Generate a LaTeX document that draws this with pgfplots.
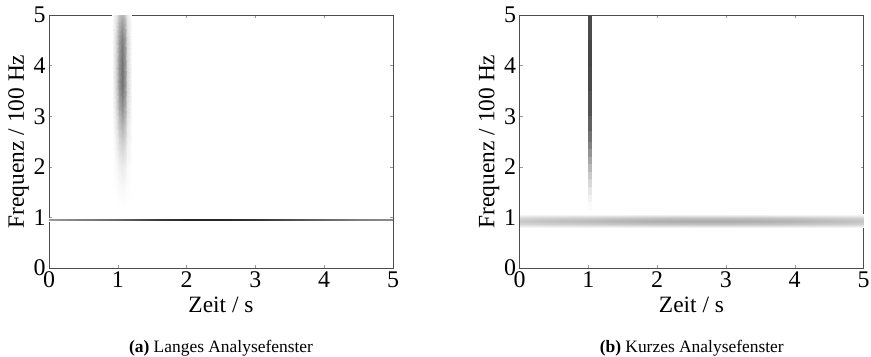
\documentclass[border=0pt]{standalone}
\usepackage{fontspec}
\setmainfont{Liberation Serif}
\usepackage{pgfplots}
\pgfplotsset{compat=1.18}
\pgfplotsset{
  spec/.style={
    scale only axis, width=344bp, height=253bp, anchor=south west,
    xmin=0, xmax=5, ymin=0, ymax=5,
    xtick={0,1,2,3,4,5}, ytick={0,1,2,3,4,5},
    tick align=inside, major tick length=3bp,
    tick style={black!40, line width=0.4pt},
    axis line style={black!70, line width=0.6pt},
    /pgf/number format/assume math mode=true,
    ticklabel style={font=\fontsize{24}{24}\selectfont},
    label style={font=\fontsize{23.5}{24}\selectfont},
    xlabel={Zeit / s}, ylabel={Frequenz / 100 Hz},
    xlabel style={at={(axis description cs:0.5,0)}, anchor=base, yshift=-44bp},
    ylabel style={at={(axis description cs:-0.073,0.5)}, anchor=base},
    colormap={bw}{gray(0cm)=(1); gray(1cm)=(0)},
    point meta min=0, point meta max=1,
  },
}
\begin{document}
\begin{tikzpicture}
\path[use as bounding box] (0,0) rectangle (871bp,357bp);
% ---------------- (a) ----------------
\begin{axis}[spec, at={(49bp,89bp)}]
\addplot[surf, shader=interp, point meta=explicit, mesh/cols=11] table[x=x,y=y,meta=c] {
x y c
0 0.925 0
0.5 0.925 0
1 0.925 0
1.5 0.925 0
2 0.925 0
2.5 0.925 0
3 0.925 0
3.5 0.925 0
4 0.925 0
4.5 0.925 0
5 0.925 0

0 0.945 0.4
0.5 0.945 0.5
1 0.945 0.6
1.5 0.945 0.75
2 0.945 0.85
2.5 0.945 0.85
3 0.945 0.8
3.5 0.945 0.7
4 0.945 0.6
4.5 0.945 0.5
5 0.945 0.45

0 0.975 0.4
0.5 0.975 0.5
1 0.975 0.6
1.5 0.975 0.75
2 0.975 0.85
2.5 0.975 0.85
3 0.975 0.8
3.5 0.975 0.7
4 0.975 0.6
4.5 0.975 0.5
5 0.975 0.45

0 0.995 0
0.5 0.995 0
1 0.995 0
1.5 0.995 0
2 0.995 0
2.5 0.995 0
3 0.995 0
3.5 0.995 0
4 0.995 0
4.5 0.995 0
5 0.995 0
};
\addplot[surf, shader=interp, point meta=explicit, mesh/cols=7] table[x=x,y=y,meta=c] {
x y c
0.92 1.2 0
0.98 1.2 0
1.02 1.2 0
1.06 1.2 0
1.10 1.2 0
1.14 1.2 0
1.20 1.2 0

0.92 1.6 0
0.98 1.6 0.009
1.02 1.6 0.0225
1.06 1.6 0.03
1.10 1.6 0.0225
1.14 1.6 0.009
1.20 1.6 0

0.92 2.0 0
0.98 2.0 0.024
1.02 2.0 0.06
1.06 2.0 0.08
1.10 2.0 0.06
1.14 2.0 0.024
1.20 2.0 0

0.92 2.4 0
0.98 2.4 0.051
1.02 2.4 0.128
1.06 2.4 0.17
1.10 2.4 0.128
1.14 2.4 0.051
1.20 2.4 0

0.92 2.8 0
0.98 2.8 0.09
1.02 2.8 0.225
1.06 2.8 0.3
1.10 2.8 0.225
1.14 2.8 0.09
1.20 2.8 0

0.92 3.2 0
0.98 3.2 0.135
1.02 3.2 0.338
1.06 3.2 0.45
1.10 3.2 0.338
1.14 3.2 0.135
1.20 3.2 0

0.92 3.6 0
0.98 3.6 0.165
1.02 3.6 0.413
1.06 3.6 0.55
1.10 3.6 0.413
1.14 3.6 0.165
1.20 3.6 0

0.92 4.0 0
0.98 4.0 0.165
1.02 4.0 0.413
1.06 4.0 0.55
1.10 4.0 0.413
1.14 4.0 0.165
1.20 4.0 0

0.92 4.5 0
0.98 4.5 0.15
1.02 4.5 0.375
1.06 4.5 0.5
1.10 4.5 0.375
1.14 4.5 0.15
1.20 4.5 0

0.92 4.8 0
0.98 4.8 0.12
1.02 4.8 0.3
1.06 4.8 0.4
1.10 4.8 0.3
1.14 4.8 0.12
1.20 4.8 0

0.92 5.0 0
0.98 5.0 0.09
1.02 5.0 0.225
1.06 5.0 0.3
1.10 5.0 0.225
1.14 5.0 0.09
1.20 5.0 0
};
\end{axis}
% ---------------- (b) ----------------
\begin{axis}[spec, at={(519.5bp,89bp)}]
\addplot[surf, shader=interp, point meta=explicit, mesh/cols=11] table[x=x,y=y,meta=c] {
x y c
0 0.80 0
0.5 0.80 0
1 0.80 0
1.5 0.80 0
2 0.80 0
2.5 0.80 0
3 0.80 0
3.5 0.80 0
4 0.80 0
4.5 0.80 0
5 0.80 0

0 0.87 0.165
0.5 0.87 0.1875
1 0.87 0.2025
1.5 0.87 0.225
2 0.87 0.24
2.5 0.87 0.2475
3 0.87 0.2475
3.5 0.87 0.24
4 0.87 0.225
4.5 0.87 0.2025
5 0.87 0.18

0 0.93 0.22
0.5 0.93 0.25
1 0.93 0.27
1.5 0.93 0.3
2 0.93 0.32
2.5 0.93 0.33
3 0.93 0.33
3.5 0.93 0.32
4 0.93 0.3
4.5 0.93 0.27
5 0.93 0.24

0 0.99 0.165
0.5 0.99 0.1875
1 0.99 0.2025
1.5 0.99 0.225
2 0.99 0.24
2.5 0.99 0.2475
3 0.99 0.2475
3.5 0.99 0.24
4 0.99 0.225
4.5 0.99 0.2025
5 0.99 0.18

0 1.06 0
0.5 1.06 0
1 1.06 0
1.5 1.06 0
2 1.06 0
2.5 1.06 0
3 1.06 0
3.5 1.06 0
4 1.06 0
4.5 1.06 0
5 1.06 0
};
\addplot[mesh, point meta=explicit, line width=3.5bp, line cap=butt] table[x=x,y=y,meta=c] {
x y c
1.022 1.15 0
1.022 1.30 0.03
1.022 1.45 0.07
1.022 1.60 0.12
1.022 1.75 0.18
1.022 1.90 0.24
1.022 2.05 0.31
1.022 2.20 0.38
1.022 2.35 0.45
1.022 2.50 0.52
1.022 2.70 0.58
1.022 3.00 0.65
1.022 3.50 0.70
1.022 4.00 0.72
1.022 4.50 0.72
1.022 5.00 0.68
};
\end{axis}
\node[anchor=base, font=\fontsize{17.5}{18}\selectfont] at (221bp,5bp) {\textbf{(a)} Langes Analysefenster};
\node[anchor=base, font=\fontsize{17.5}{18}\selectfont] at (691.75bp,5bp) {\textbf{(b)} Kurzes Analysefenster};
\end{tikzpicture}
\end{document}
